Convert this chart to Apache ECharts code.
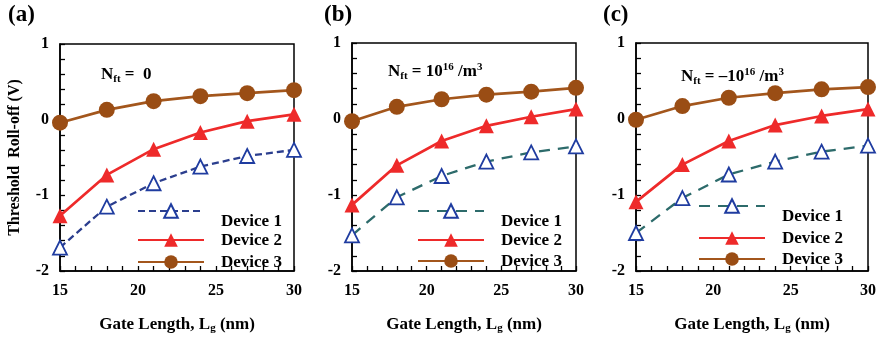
<!DOCTYPE html>
<html><head><meta charset="utf-8">
<script src="https://cdn.jsdelivr.net/npm/echarts@6/dist/echarts.min.js"></script>
<style>html,body{margin:0;padding:0;background:#fff}#c{width:881px;height:339px}</style>
</head><body><div id="c"></div>
<script>
// ---- data ----
const gateLength = [15, 18, 21, 24, 27, 30];
const xTicks = [15, 20, 25, 30];
const yTicks = [-2, -1, 0, 1];
const seriesNames = ['Device 1', 'Device 2', 'Device 3'];
// panel (a) Nft = 0
const aDevice1 = [-1.69, -1.15, -0.84, -0.62, -0.48, -0.40];
const aDevice2 = [-1.27, -0.73, -0.39, -0.17, -0.02, 0.07];
const aDevice3 = [-0.04, 0.13, 0.245, 0.31, 0.35, 0.39];
// panel (b) Nft = 1e16
const bDevice1 = [-1.53, -1.03, -0.75, -0.56, -0.44, -0.36];
const bDevice2 = [-1.13, -0.61, -0.29, -0.09, 0.03, 0.13];
const bDevice3 = [-0.03, 0.16, 0.26, 0.32, 0.36, 0.41];
// panel (c) Nft = -1e16
const cDevice1 = [-1.50, -1.04, -0.73, -0.56, -0.43, -0.35];
const cDevice2 = [-1.09, -0.60, -0.29, -0.08, 0.04, 0.13];
const cDevice3 = [-0.01, 0.17, 0.28, 0.34, 0.39, 0.42];

const panels = [
  {tag: '(a)', d: [aDevice1, aDevice2, aDevice3]},
  {tag: '(b)', d: [bDevice1, bDevice2, bDevice3]},
  {tag: '(c)', d: [cDevice1, cDevice2, cDevice3]}
];

// ---- layout / style ----
const FONT = '"Liberation Serif", "Times New Roman", serif';
const grids = [
  {left: 60, top: 44, width: 234, height: 233},
  {left: 352, top: 43, width: 224, height: 234},
  {left: 636, top: 43, width: 232, height: 230}
];
const dev1Line = ['#2b3e8e', '#2d6b6b', '#2d6b6b'];
const dev1Dash = [[7, 4], [11, 8], [11, 8]];
const triBlue = '#1f3ca0';
const red = '#ee2a2a';
const brown = '#a3561c';

const legendPos = [
  {x: 137, y: [211, 240, 262]},
  {x: 417, y: [211, 240, 261]},
  {x: 698, y: [206, 238, 259]}
];

const option = {
  animation: false,
  backgroundColor: '#fff',
  grid: grids.map(g => Object.assign({show: true, borderColor: '#000', borderWidth: 1.5, backgroundColor: 'transparent'}, g)),
  xAxis: grids.map((g, i) => ({
    type: 'value', gridIndex: i, min: xTicks[0], max: xTicks[xTicks.length - 1], interval: 5,
    axisLine: {onZero: false, lineStyle: {color: '#000', width: 1.5}},
    axisTick: {inside: true, length: 5, lineStyle: {color: '#000', width: 1.3}},
    minorTick: {show: true, splitNumber: 5, length: 5, lineStyle: {color: '#000', width: 1.3}},
    splitLine: {show: false},
    axisLabel: {margin: 12, fontFamily: FONT, fontWeight: 'bold', fontSize: 16, color: '#000'},
    name: '{t|Gate Length, L}{s|g}{t| (nm)}',
    nameLocation: 'middle', nameGap: 44,
    nameTextStyle: {rich: {
      t: {fontFamily: FONT, fontWeight: 'bold', fontSize: 17, color: '#000'},
      s: {fontFamily: FONT, fontWeight: 'bold', fontSize: 11, color: '#000', verticalAlign: 'bottom', padding: [8, 0, 0, 0]}
    }}
  })),
  yAxis: grids.map((g, i) => ({
    type: 'value', gridIndex: i, min: yTicks[0], max: yTicks[yTicks.length - 1], interval: 1,
    axisLine: {onZero: false, lineStyle: {color: '#000', width: 1.5}},
    axisTick: {inside: true, length: 5, lineStyle: {color: '#000', width: 1.3}},
    minorTick: {show: true, splitNumber: 5, length: 5, lineStyle: {color: '#000', width: 1.3}},
    splitLine: {show: false},
    axisLabel: {margin: 11, fontFamily: FONT, fontWeight: 'bold', fontSize: 16, color: '#000'},
    name: i === 0 ? 'Threshold  Roll-off (V)' : '',
    nameLocation: 'middle', nameGap: 37, nameRotate: 90,
    nameTextStyle: {fontFamily: FONT, fontWeight: 'bold', fontSize: 16, color: '#000'}
  })),
  legend: [],
  series: [],
  graphic: []
};

panels.forEach((p, i) => {
  const sfx = ' ' + p.tag;
  const styles = [
    {symbol: 'triangle', symbolSize: 14, lineStyle: {color: dev1Line[i], width: 2.3, type: dev1Dash[i]},
     itemStyle: {color: '#fff', borderColor: triBlue, borderWidth: 1.8}},
    {symbol: 'triangle', symbolSize: 15, lineStyle: {color: red, width: 2.7},
     itemStyle: {color: red, borderColor: red, borderWidth: 0}},
    {symbol: 'circle', symbolSize: 16, lineStyle: {color: brown, width: 2.7},
     itemStyle: {color: '#9a4d14', borderColor: '#9a4d14', borderWidth: 0}}
  ];
  p.d.forEach((vals, k) => {
    option.series.push(Object.assign({
      type: 'line', name: seriesNames[k] + sfx, xAxisIndex: i, yAxisIndex: i,
      data: gateLength.map((x, j) => [x, vals[j]]),
      showSymbol: true, z: 3 + k
    }, styles[k]));
    const cy = legendPos[i].y[k];
    const isD1 = k === 0;
    const txt = {fontFamily: FONT, fontWeight: 'bold', fontSize: 17, color: '#000', lineHeight: 18};
    option.legend.push({
      data: [seriesNames[k] + sfx], selectedMode: false, padding: 0,
      left: legendPos[i].x, top: isD1 ? cy - 19 : cy - 9,
      itemWidth: 66, itemHeight: 17,
      formatter: () => '{d|' + seriesNames[k] + '}',
      textStyle: {rich: {d: Object.assign({padding: isD1 ? [21, 0, 0, 12] : [1, 0, 0, 12]}, txt)}}
    });
  });
  option.graphic.push({
    type: 'text', left: [8, 324, 603][i], top: 4,
    style: {text: p.tag, fontFamily: FONT, fontWeight: 'bold', fontSize: 23, fill: '#000'}
  });
});

const rich = {
  n: {fontFamily: FONT, fontWeight: 'bold', fontSize: 17, color: '#000', lineHeight: 20},
  sub: {fontFamily: FONT, fontWeight: 'bold', fontSize: 11, color: '#000', verticalAlign: 'bottom', lineHeight: 14},
  sup: {fontFamily: FONT, fontWeight: 'bold', fontSize: 11, color: '#000', verticalAlign: 'top', lineHeight: 14}
};
const notes = [
  {x: 101, y: 66, t: '{n|N}{sub|ft}{n| =  0}'},
  {x: 388, y: 62, t: '{n|N}{sub|ft}{n| = 10}{sup|16}{n| /m}{sup|3}'},
  {x: 681, y: 67, t: '{n|N}{sub|ft}{n| = –10}{sup|16}{n| /m}{sup|3}'}
];
notes.forEach(nt => option.graphic.push({
  type: 'text', left: nt.x, top: nt.y,
  style: {text: nt.t, rich: rich}
}));

const chart = echarts.init(document.getElementById('c'), null, {renderer: 'canvas'});
chart.setOption(option);
</script></body></html>
